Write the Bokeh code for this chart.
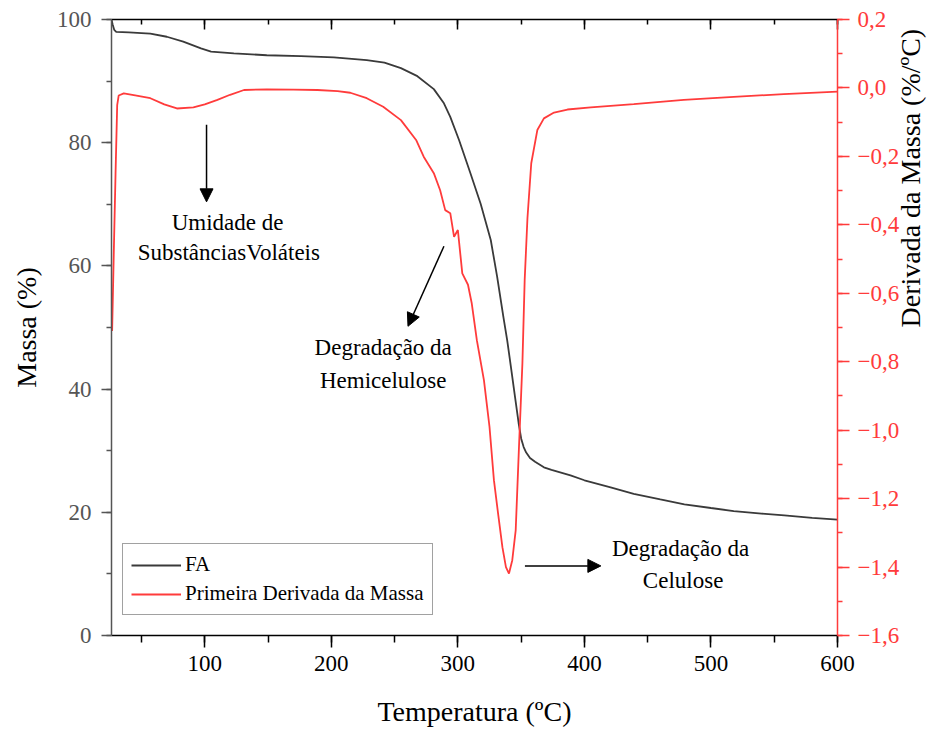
import math
from bokeh.plotting import figure
from bokeh.models import (Range1d, LinearAxis, SingleIntervalTicker, CustomJSTickFormatter,
                          Legend, LegendItem, Arrow, NormalHead, ColumnDataSource)
from bokeh.core.properties import value
from bokeh.embed import file_html
from bokeh.resources import INLINE

# ---- data ----
temp_fa = [26.3, 27.2, 28.5, 30, 40, 50, 57, 70, 83, 97, 105, 123, 149, 176, 202, 228, 242, 255,
           268, 281, 289, 294, 301, 310, 318, 326, 331, 336, 339, 342, 345, 348, 350, 352, 354,
           357, 361, 368, 374, 389, 400, 420, 439, 460, 479, 500, 518, 540, 558, 580, 600]
mass_fa = [100, 99.2, 98.3, 98.0, 97.9, 97.8, 97.7, 97.2, 96.4, 95.3, 94.8, 94.5, 94.2, 94.05,
           93.85, 93.4, 93.0, 92.1, 90.8, 88.7, 86.4, 84.2, 80.4, 75.0, 70.1, 64.2, 58.3, 51.7,
           47.9, 43.5, 39.0, 34.5, 32.0, 30.6, 29.7, 28.8, 28.2, 27.3, 26.9, 26.0, 25.2, 24.1,
           23.0, 22.1, 21.3, 20.7, 20.2, 19.8, 19.5, 19.1, 18.8]

temp_dtg = [26.8, 28, 29.5, 30.8, 32, 36, 45, 57, 68, 78, 91, 100, 110, 120, 131, 149, 170, 189,
            205, 215, 228, 241, 255, 267, 273, 281, 286, 290, 294, 297, 300, 303.5, 308, 311, 315,
            320.6, 325, 328.5, 332, 335.2, 338, 340.4, 343, 345.7, 348.3, 351, 352.8, 355, 358,
            362.8, 368, 376, 386.6, 405, 439, 478.5, 518, 557.5, 600]
dtg = [-0.71, -0.50, -0.25, -0.05, -0.022, -0.016, -0.022, -0.030, -0.048, -0.060, -0.057, -0.048,
       -0.035, -0.020, -0.006, -0.004, -0.005, -0.006, -0.009, -0.014, -0.030, -0.055, -0.094,
       -0.152, -0.201, -0.249, -0.299, -0.357, -0.366, -0.435, -0.415, -0.542, -0.575, -0.630,
       -0.737, -0.854, -0.990, -1.146, -1.250, -1.342, -1.400, -1.419, -1.380, -1.293, -1.049,
       -0.805, -0.562, -0.380, -0.220, -0.123, -0.089, -0.072, -0.063, -0.057, -0.047, -0.035,
       -0.026, -0.018, -0.011]

# annotations
note_text = ["Umidade de", "SubstânciasVoláteis", "Degradação da", "Hemicelulose",
             "Degradação da", "Celulose"]
note_x = [118, 119, 241, 241, 476, 478]
note_y = [67.0, 62.1, 46.8, 41.4, 14.1, 8.9]

arrow_x0 = [101.4, 289, 353]
arrow_y0 = [82.9, 63.2, 11.3]
arrow_x1 = [101.4, 260.6, 413]
arrow_y1 = [70.4, 50.2, 11.3]

FONT = "Liberation Serif"
RED = "#ff3b3b"
GREY = "#555555"

p = figure(width=944, height=735, x_range=Range1d(26.3, 600), y_range=Range1d(0, 100),
           output_backend="svg", toolbar_location=None,
           min_border_left=111, min_border_right=107, min_border_top=19, min_border_bottom=100)
p.xgrid.visible = False
p.ygrid.visible = False
p.outline_line_color = None
p.background_fill_color = "white"
p.extra_y_ranges = {"d": Range1d(-1.6, 0.2)}


def style_axis(ax, color, tick_out, minor_out, label_color, standoff):
    ax.axis_line_color = color
    ax.axis_line_width = 1.5
    ax.major_tick_line_color = color
    ax.minor_tick_line_color = color
    ax.major_tick_line_width = 1.5
    ax.minor_tick_line_width = 1.5
    ax.major_tick_out = tick_out
    ax.major_tick_in = 0
    ax.minor_tick_out = minor_out
    ax.minor_tick_in = 0
    ax.major_label_text_font = FONT
    ax.major_label_text_font_size = "23px"
    ax.major_label_text_color = label_color
    ax.major_label_standoff = standoff
    ax.axis_label_text_font = FONT
    ax.axis_label_text_font_size = "28px"
    ax.axis_label_text_font_style = "normal"
    ax.axis_label_text_color = "black"


# bottom axis
xa = p.xaxis[0]
xa.ticker = SingleIntervalTicker(interval=100, num_minor_ticks=2)
style_axis(xa, "black", 12, 7, "black", 8)
xa.axis_label = "Temperatura (ºC)"
xa.axis_label_standoff = 22

# left axis
ya = p.yaxis[0]
ya.ticker = SingleIntervalTicker(interval=20, num_minor_ticks=2)
style_axis(ya, GREY, 10, 5, GREY, 10)
ya.axis_label = "Massa (%)"
ya.axis_label_standoff = 12

# right axis
ra = LinearAxis(y_range_name="d",
                ticker=SingleIntervalTicker(interval=0.2, num_minor_ticks=2),
                formatter=CustomJSTickFormatter(code="""
                    if (Math.abs(tick) < 1e-9) { return '0,0'; }
                    const s = Math.abs(tick).toFixed(1).replace('.', ',');
                    return (tick < 0 ? '\u2212' : '') + s;
                """))
style_axis(ra, RED, 12, 5, RED, 8)
ra.axis_label = "Derivada da Massa (%/ºC)"
ra.axis_label_standoff = 8
ra.axis_label_orientation = math.pi / 2
p.add_layout(ra, "right")

# top axis (frame line with inward ticks, no labels)
ta = LinearAxis(ticker=SingleIntervalTicker(interval=100, num_minor_ticks=2),
                formatter=CustomJSTickFormatter(code="return '';"))
ta.axis_line_color = "black"
ta.axis_line_width = 1.5
ta.major_tick_line_color = "black"
ta.minor_tick_line_color = "black"
ta.major_tick_line_width = 1.5
ta.minor_tick_line_width = 1.5
ta.major_tick_in = 10
ta.major_tick_out = 0
ta.minor_tick_in = 5
ta.minor_tick_out = 0
ta.major_label_text_font_size = "1px"
ta.major_label_standoff = 0
p.add_layout(ta, "above")

# curves
r_fa = p.line(temp_fa, mass_fa, line_color="#3a3a3a", line_width=1.8)
r_d = p.line(temp_dtg, dtg, line_color=RED, line_width=1.8, y_range_name="d")

# annotations
src = ColumnDataSource(dict(x=note_x, y=note_y, t=note_text))
p.text(x="x", y="y", text="t", source=src, text_font=value(FONT), text_font_size="23px",
       text_align="center", text_baseline="middle", text_color="black")

for x0, y0, x1, y1 in zip(arrow_x0, arrow_y0, arrow_x1, arrow_y1):
    p.add_layout(Arrow(x_start=x0, y_start=y0, x_end=x1, y_end=y1,
                       line_color="black", line_width=1.5,
                       end=NormalHead(size=13, fill_color="black", line_color="black")))

legend = Legend(items=[LegendItem(label="FA", renderers=[r_fa]),
                       LegendItem(label="Primeira Derivada da Massa", renderers=[r_d])],
                location=(11, 20))
legend.label_text_font = FONT
legend.label_text_font_size = "21px"
legend.label_text_color = "black"
legend.glyph_width = 50
legend.glyph_height = 20
legend.label_height = 20
legend.label_standoff = 4
legend.spacing = 4
legend.padding = 8
legend.margin = 0
legend.border_line_color = "#444444"
legend.border_line_width = 1
legend.background_fill_color = "white"
p.add_layout(legend)

open("out.html", "w").write(file_html(p, INLINE))
